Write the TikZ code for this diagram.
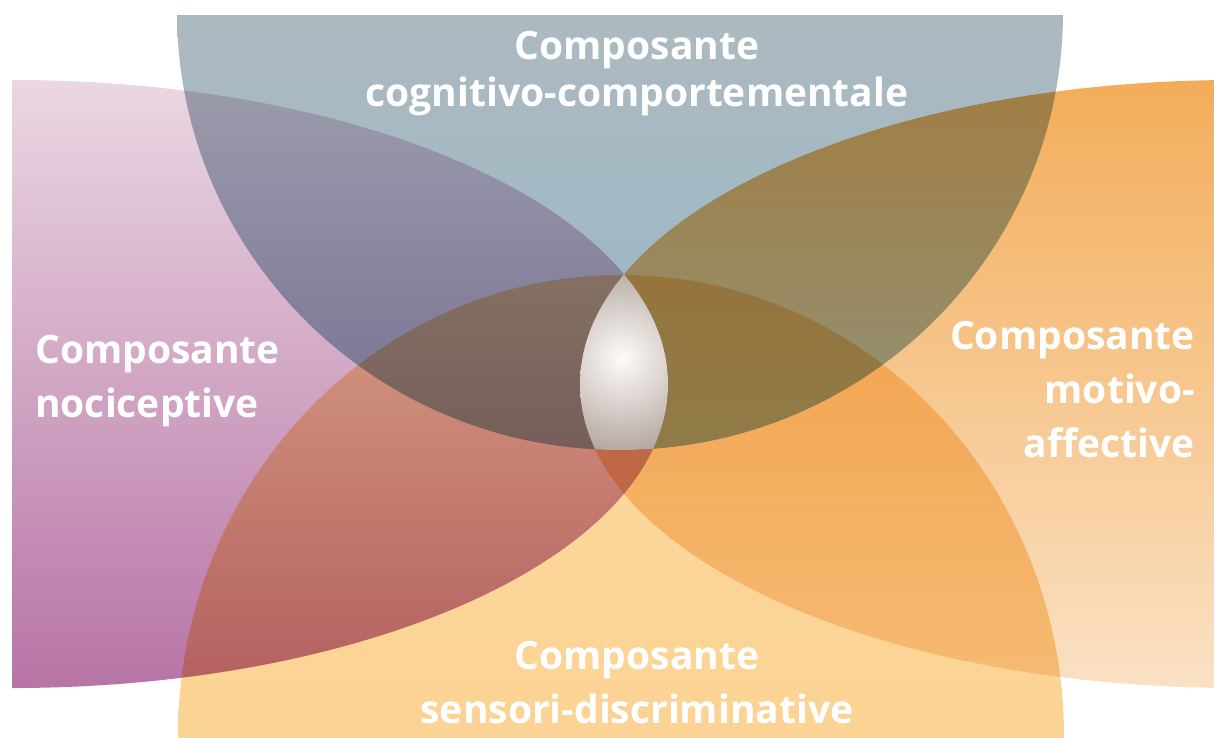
\documentclass[tikz,border=0pt]{standalone}
\usepackage{fontspec}
\setmainfont{Open Sans}

\definecolor{topA}{RGB}{173,185,192}
\definecolor{topB}{RGB}{150,184,200}
\definecolor{leftA}{RGB}{235,217,227}
\definecolor{leftB}{RGB}{182,114,164}
\definecolor{rightA}{RGB}{243,172,88}
\definecolor{rightB}{RGB}{250,226,198}
\definecolor{botA}{RGB}{251,218,160}
\definecolor{botB}{RGB}{251,211,148}
\definecolor{dropA}{RGB}{253,251,249}
\definecolor{dropB}{RGB}{172,158,150}

\begin{document}
\begin{tikzpicture}[
    x=1pt, y=-1pt,
    label/.style={text=white, font=\fontsize{39}{54}\selectfont\bfseries, inner sep=0pt}
]

% Frame
\fill[white] (0,0) rectangle (1214,737);
\useasboundingbox (0,0) rectangle (1214,737);
\clip (0,0) rectangle (1214,737);

% Petals (multiplied where they overlap)
\begin{scope}[blend group=multiply]
  \begin{scope}
    \clip (620,12) ellipse (443 and 438);
    \shade[top color=topA, bottom color=topB] (0,15) rectangle (1214,460);
  \end{scope}
  \begin{scope}
    \clip (12,384) ellipse (656 and 304);
    \shade[top color=leftA, bottom color=leftB] (12,70) rectangle (700,700);
  \end{scope}
  \begin{scope}
    \clip (1236,384) ellipse (656 and 304);
    \shade[top color=rightA, bottom color=rightB] (560,70) rectangle (1214,700);
  \end{scope}
  \begin{scope}
    \clip (621,737) ellipse (443 and 462);
    \shade[top color=botA, bottom color=botB] (0,270) rectangle (1214,737);
  \end{scope}
\end{scope}

% Centre drop
\begin{scope}
  \clip (12,384) ellipse (656 and 304);
  \clip (1236,384) ellipse (656 and 304);
  \clip (620,12) ellipse (443 and 438);
  \shade[inner color=dropA, outer color=dropB] (622,358) circle (105);
\end{scope}

% Labels
\node[label, align=center, anchor=north] (cog) at (637,31) {Composante\\[-7pt]cognitivo-comportementale};
\node[label, align=left, anchor=north west] (noci) at (35,335) {Composante\\nociceptive};
\node[label, align=right, anchor=north east] (moti) at (1195,321) {Composante\\motivo-\\affective};
\node[label, align=center, anchor=north] (sens) at (637,641) {Composante\\sensori-discriminative};

\end{tikzpicture}
\end{document}
